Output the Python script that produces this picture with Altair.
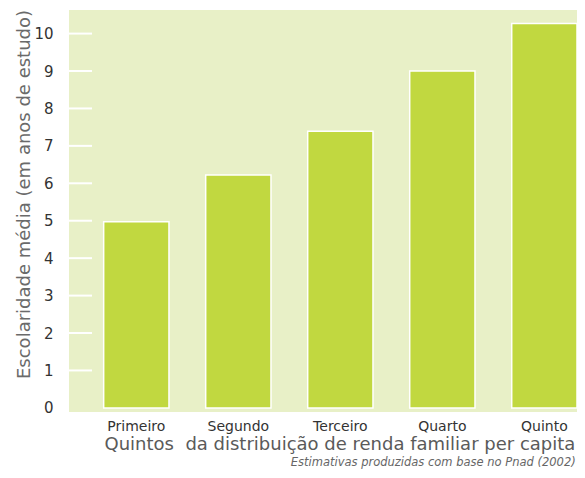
import altair as alt
import pandas as pd

categories = ["Primeiro", "Segundo", "Terceiro", "Quarto", "Quinto"]
values = [4.97, 6.22, 7.39, 9.0, 10.27]
tick_values = [1, 2, 3, 4, 5, 6, 7, 8, 9, 10]
axis_labels = [0, 1, 2, 3, 4, 5, 6, 7, 8, 9, 10]

W, H = 508, 402
FONT = "DejaVu Sans"

df = pd.DataFrame({"quinto": categories, "valor": values})
ticks_df = pd.DataFrame({"t": tick_values})

yscale = alt.Scale(domain=[-0.11, 10.63], zero=False, nice=False)

bars = alt.Chart(df).mark_bar(color="#c1d840", stroke="white", strokeWidth=1.5).encode(
    x=alt.X("quinto:N", sort=categories,
            scale=alt.Scale(paddingInner=0.36, paddingOuter=0.17, align=1),
            axis=alt.Axis(title="Quintos\u00a0 da distribuição de renda familiar per capita",
                          labelAngle=0, labelFontSize=14, labelColor="#333333", labelFont=FONT,
                          labelPadding=7, ticks=False, tickSize=0, domain=False,
                          titleFont=FONT, titleFontSize=18, titleFontWeight="normal",
                          titleColor="#5a5a5a", titleAnchor="start", titleX=35,
                          titleAlign="left", titleBaseline="alphabetic", titleY=37)),
    y=alt.Y("valor:Q", scale=yscale,
            axis=alt.Axis(title="Escolaridade média (em anos de estudo)", values=axis_labels,
                          grid=False, ticks=False, tickSize=0, domain=False,
                          labelFontSize=15, labelColor="#333333", labelFont=FONT,
                          labelPadding=16, titleFont=FONT, titleFontSize=18,
                          titleFontWeight="normal", titleColor="#6a6a6a",
                          titleBaseline="alphabetic", titleAngle=270,
                          titleX=-40, titleY=184)),
    y2=alt.value(H),
)

tick_rules = alt.Chart(ticks_df).mark_rule(color="white", strokeWidth=2).encode(
    x=alt.value(0), x2=alt.value(23), y=alt.Y("t:Q", scale=yscale)
)

chart = alt.layer(tick_rules, bars).properties(
    width=W, height=H,
    autosize=alt.AutoSizeParams(type="none"),
    padding={"left": 61, "top": 2, "right": 0, "bottom": 58},
    title=alt.TitleParams(text="Estimativas produzidas com base no Pnad (2002)", orient="bottom",
                          anchor="end", fontSize=11.5, fontStyle="italic", fontWeight="normal",
                          font=FONT, color="#666666", dx=-2, offset=4, baseline="top"),
).configure_view(fill="#e8f0c7", stroke=None)

chart.save("out.html", embed_options={"renderer": "svg", "actions": False})
